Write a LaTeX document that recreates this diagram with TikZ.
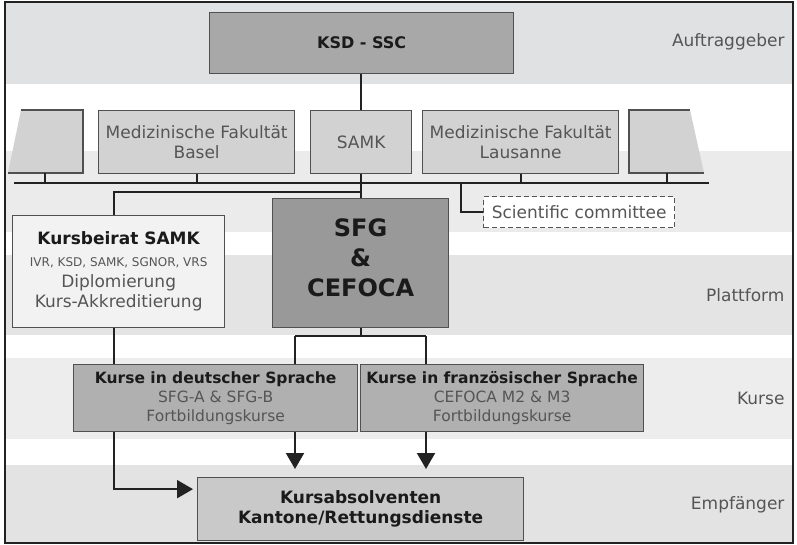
\documentclass[tikz,border=0pt]{standalone}
\usepackage{fontspec}
\setmainfont{DejaVu Sans}
\usetikzlibrary{arrows.meta}
\definecolor{bandA}{HTML}{E0E1E2}
\definecolor{bandB}{HTML}{EBEBEB}
\definecolor{bandC}{HTML}{E4E4E4}
\definecolor{bandD}{HTML}{EDEDED}
\definecolor{bandE}{HTML}{E3E3E4}
\definecolor{lineclr}{HTML}{222222}
\definecolor{boxclr}{HTML}{505050}
\definecolor{txtgrey}{HTML}{555555}
\definecolor{txtdark}{HTML}{1A1A1A}
\definecolor{fillksd}{HTML}{A8A8A8}
\definecolor{fillmed}{HTML}{D2D2D2}
\definecolor{fillbeirat}{HTML}{F2F2F2}
\definecolor{fillsfg}{HTML}{999999}
\definecolor{fillkurs}{HTML}{B0B0B0}
\definecolor{fillabs}{HTML}{C9C9C9}

\begin{document}
\begin{tikzpicture}[x=1pt,y=-1pt,
        box/.style={draw=boxclr,line width=1.3pt,anchor=north west,inner sep=0pt,align=center,text=txtgrey,font=\fontsize{17}{20}\selectfont},
        link/.style={draw=lineclr,line width=2pt},
        arr/.style={link,-{Triangle[length=16pt,width=18pt]}},
        side/.style={anchor=east,text=txtgrey,font=\fontsize{17}{20}\selectfont}]
        \useasboundingbox (0,0) rectangle (797,545);
        % bands
        \fill[white] (0,0) rectangle (797,545);
        \fill[bandA] (5,2) rectangle (793,84);
        \fill[bandB] (5,151) rectangle (793,232);
        \fill[bandC] (5,255) rectangle (793,335);
        \fill[bandD] (5,358) rectangle (793,439);
        \fill[bandE] (5,465) rectangle (793,543);
        \draw[lineclr,line width=1.5pt] (5,2) rectangle (793,543);
        \node[side] (lauftrag) at (788,42) {Auftraggeber};
        \node[side] (lplatt) at (788,295) {Plattform};
        \node[side] (lkurse) at (788,398) {Kurse};
        \node[side] (lempf) at (788,505) {Empfänger};

        % upper row
        \node[box,fill=fillksd,text=txtdark,font=\fontsize{16}{20}\selectfont\bfseries,minimum width=304,minimum height=61] (ksd) at (209,12) {KSD - SSC};
        \fill[fillmed] (21,110) -- (83,110) -- (83,173) -- (8,173) -- cycle;
        \draw[boxclr,line width=1.3pt] (21,110) -- (83,110) -- (83,173) -- (8,173);
        \fill[fillmed] (629,110) -- (690,110) -- (704,173) -- (629,173) -- cycle;
        \draw[boxclr,line width=1.3pt] (690,110) -- (629,110) -- (629,173) -- (704,173);
        \coordinate (tl) at (45,173);
        \coordinate (tr) at (667,173);
        \node[box,fill=fillmed,minimum width=196,minimum height=63] (basel) at (98,110) {Medizinische Fakultät\\Basel};
        \node[box,fill=fillmed,minimum width=101,minimum height=63] (samk) at (310,110) {SAMK};
        \node[box,fill=fillmed,minimum width=196,minimum height=63] (lausanne) at (422,110) {Medizinische Fakultät\\Lausanne};

        % bus
        \coordinate (busl) at (14,183);
        \coordinate (busr) at (709,183);
        \coordinate (bj) at (360,192);
        \coordinate (scij) at (461,183);
        \draw[link] (busl) -- (busr);
        \draw[link] (tl) -- (tl |- busl);
        \draw[link] (tr) -- (tr |- busl);
        \draw[link] (basel.south) -- (basel.south |- busl);
        \draw[link] (lausanne.south) -- (lausanne.south |- busl);
        \draw[link] (ksd.south -| samk.south) -- (samk.north);

        % platform
        \node[box,draw=txtgrey,dash pattern=on 5pt off 3pt,fill=white,minimum width=191,minimum height=31] (scicom) at (483,196) {Scientific committee};
        \draw[link] (scicom.west) -| (scij);
        \node[box,fill=fillbeirat,minimum width=212,minimum height=112] (beirat) at (12,215) {{\fontsize{17}{22}\selectfont\bfseries\color{txtdark}Kursbeirat SAMK}\\[2pt]{\fontsize{12}{20}\selectfont IVR, KSD, SAMK, SGNOR, VRS}\\[1pt]Diplomierung\\Kurs-Akkreditierung};
        \node[box,fill=fillsfg,text=txtdark,font=\fontsize{24}{30}\selectfont\bfseries,minimum width=176,minimum height=129] (sfg) at (272,198) {SFG\\\&\\CEFOCA\\[-18pt]\mbox{}};
        \draw[link] (samk.south) -- (samk.south |- sfg.north);
        \draw[link] ([xshift=-5pt]beirat.north) |- (bj);

        % courses
        \node[box,fill=fillabs,minimum width=326,minimum height=63] (absolv) at (197,477) {\bfseries\color{txtdark}Kursabsolventen\\\bfseries\color{txtdark}Kantone/Rettungsdienste};
        \draw[arr,shorten >=4pt] ([xshift=-5pt]beirat.south) |- ([yshift=20pt]absolv.west);
        \node[box,fill=fillkurs,font=\fontsize{15.5}{19}\selectfont,minimum width=284,minimum height=67] (kursde) at (73,364) {{\bfseries\color{txtdark}Kurse in deutscher Sprache}\\SFG-A \& SFG-B\\Fortbildungskurse};
        \node[box,fill=fillkurs,font=\fontsize{15.5}{19}\selectfont,minimum width=283,minimum height=67] (kursfr) at (360,364) {{\bfseries\color{txtdark}Kurse in französischer Sprache}\\CEFOCA M2 \& M3\\Fortbildungskurse};
        \coordinate (fl) at (295,336);
        \coordinate (fr) at (426,336);
        \draw[link] (sfg.south) -- (sfg.south |- fl);
        \draw[link] (fl) -- (fr);
        \draw[link] (fl) -- (fl |- kursde.north);
        \draw[link] (fr) -- (fr |- kursfr.north);
        \draw[arr,shorten >=8pt] (fl |- kursde.south) -- (fl |- absolv.north);
        \draw[arr,shorten >=8pt] (fr |- kursfr.south) -- (fr |- absolv.north);
    \end{tikzpicture}
\end{document}
